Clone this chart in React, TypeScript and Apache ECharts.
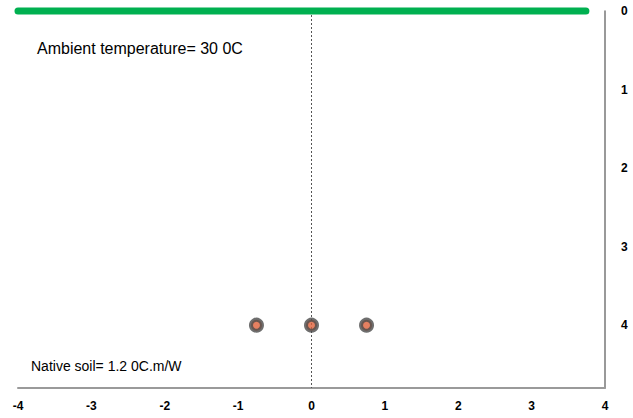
import React, { useEffect, useRef } from "react";
import * as echarts from "echarts";

const xTicks = [-4, -3, -2, -1, 0, 1, 2, 3, 4];
const yTicks = [0, 1, 2, 3, 4];
const groundLine: [number, number][] = [[-4, 0], [3.74, 0]];
const centerLine: [number, number][] = [[0, 0], [0, 4.8]];
const cables: [number, number][] = [[-0.75, 4], [0, 4], [0.75, 4]];
const ambientText = "Ambient temperature= 30 0C";
const soilText = "Native soil= 1.2 0C.m/W";

export default function App() {
  const ref = useRef<HTMLDivElement>(null);
  useEffect(() => {
    if (!ref.current) return;
    const chart = echarts.init(ref.current, null, { renderer: "svg" });
    chart.setOption({
      animation: false,
      grid: { left: 18, right: 28, top: 11, bottom: 30, containLabel: false },
      xAxis: {
        type: "value",
        min: xTicks[0],
        max: xTicks[xTicks.length - 1],
        interval: 1,
        axisLine: { show: true, onZero: false, lineStyle: { color: "#9a9a9a", width: 2 } },
        axisTick: { show: false },
        splitLine: { show: false },
        axisLabel: {
          color: "#000",
          fontWeight: "bold",
          fontSize: 12,
          fontFamily: "Liberation Sans, Arial, sans-serif",
          margin: 12,
        },
      },
      yAxis: {
        type: "value",
        position: "right",
        inverse: true,
        min: yTicks[0],
        max: 4.8,
        interval: 1,
        axisLine: { show: true, onZero: false, lineStyle: { color: "#777", width: 1.5 } },
        axisTick: { show: false },
        splitLine: { show: false },
        axisLabel: {
          color: "#000",
          fontWeight: "bold",
          fontSize: 12,
          fontFamily: "Liberation Sans, Arial, sans-serif",
          margin: 16,
          showMaxLabel: false,
          formatter: (v: number) => (yTicks.includes(v) ? String(v) : ""),
        },
      },
      series: [
        {
          type: "line",
          data: centerLine,
          symbol: "none",
          clip: false,
          lineStyle: { color: "#555", width: 1, type: [2, 2] },
          z: 1,
        },
        {
          type: "line",
          data: groundLine,
          symbol: "none",
          clip: false,
          lineStyle: { color: "#00b050", width: 7, cap: "round" },
          z: 2,
        },
        {
          type: "scatter",
          data: cables,
          symbol: "circle",
          symbolSize: 11,
          itemStyle: { color: "#e0603a", borderColor: "#4a4a4a", borderWidth: 4 },
          z: 3,
        },
      ],
      graphic: [
        {
          type: "text",
          left: 37,
          top: 40,
          style: {
            text: ambientText,
            fill: "#000",
            fontSize: 16,
            fontFamily: "Liberation Sans, Arial, sans-serif",
          },
        },
        {
          type: "text",
          left: 31,
          top: 359,
          style: {
            text: soilText,
            fill: "#000",
            fontSize: 14,
            fontFamily: "Liberation Sans, Arial, sans-serif",
          },
        },
      ],
    });
    return () => chart.dispose();
  }, []);
  return <div ref={ref} style={{ width: 633, height: 418, position: "absolute", left: 0, top: 0 }} />;
}
